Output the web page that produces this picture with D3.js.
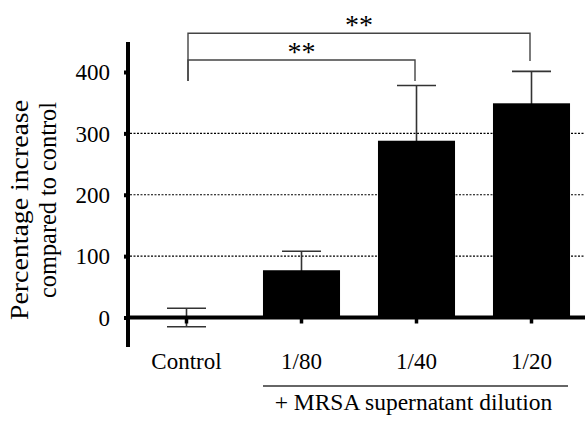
<!DOCTYPE html>
<html>
<head>
<meta charset="utf-8">
<script src="https://cdn.jsdelivr.net/npm/d3@7"></script>
</head>
<body style="margin:0; background:#fff">
<div id="chart"></div>
<script>
// data
var categories = ["Control", "1/80", "1/40", "1/20"];
var means = [0, 77, 288, 349];
var errors = [15, 31, 90, 52];
var yTicks = [0, 100, 200, 300, 400];
var gridValues = [100, 200, 300];
// significance brackets: from category, to category, label
var sigFrom = ["Control", "Control"];
var sigTo = ["1/20", "1/40"];
var sigLabel = ["**", "**"];

var width = 585, height = 422;
var fontFam = "Liberation Serif, Tinos, Times New Roman, serif";

var svg = d3.select("#chart")
  .append("svg")
    .attr("width", width)
    .attr("height", height)
    .attr("font-family", fontFam);

var x = d3.scaleBand()
  .domain(categories)
  .range([129, 589])
  .paddingInner(0.33)
  .paddingOuter(0.165);

var y = d3.scaleLinear()
  .domain([0, 400])
  .range([317.5, 72]);

// dotted grid lines
svg.append("g")
  .selectAll("line")
  .data(gridValues)
  .enter().append("line")
    .attr("x1", 130)
    .attr("x2", width)
    .attr("y1", function(d) { return y(d); })
    .attr("y2", function(d) { return y(d); })
    .attr("stroke", "#000")
    .attr("stroke-width", 1.2)
    .attr("stroke-dasharray", "2,1.5");

var data = categories.map(function(c, i) { return { cat: c, mean: means[i], err: errors[i] }; });

// error bars (drawn first, bars hide the lower half)
var eb = svg.append("g")
  .attr("stroke", "#333")
  .attr("stroke-width", 1.6);
var capHalf = 19.5;
data.forEach(function(d) {
  var cx = x(d.cat) + x.bandwidth() / 2;
  eb.append("line")
    .attr("x1", cx).attr("x2", cx)
    .attr("y1", y(d.mean - d.err)).attr("y2", y(d.mean + d.err));
  eb.append("line")
    .attr("x1", cx - capHalf).attr("x2", cx + capHalf)
    .attr("y1", y(d.mean + d.err)).attr("y2", y(d.mean + d.err));
  eb.append("line")
    .attr("x1", cx - capHalf).attr("x2", cx + capHalf)
    .attr("y1", y(d.mean - d.err)).attr("y2", y(d.mean - d.err));
});

// bars
svg.append("g")
  .selectAll("rect")
  .data(data)
  .enter().append("rect")
    .attr("x", function(d) { return x(d.cat); })
    .attr("width", x.bandwidth())
    .attr("y", function(d) { return y(Math.max(d.mean, 0)); })
    .attr("height", function(d) { return Math.abs(y(d.mean) - y(0)); })
    .attr("fill", "#000");

// y axis
var yAxis = svg.append("g")
  .attr("transform", "translate(128,0)")
  .call(d3.axisLeft(y).tickValues(yTicks).tickSize(4).tickPadding(14))
  .attr("font-family", fontFam)
  .attr("font-size", 23);
yAxis.select(".domain").remove();
yAxis.selectAll(".tick line").attr("stroke-width", 4);
yAxis.selectAll(".tick text").attr("dy", "0.34em");

svg.append("line")
  .attr("x1", 128).attr("x2", 128)
  .attr("y1", y(-48)).attr("y2", y(449))
  .attr("stroke", "#000")
  .attr("stroke-width", 4);

// x axis
var xAxis = svg.append("g")
  .attr("transform", "translate(0," + y(0) + ")")
  .call(d3.axisBottom(x).tickSize(6).tickPadding(45))
  .attr("font-family", fontFam)
  .attr("font-size", 23);
xAxis.select(".domain").remove();
xAxis.selectAll(".tick line").attr("stroke-width", 3.5);
xAxis.selectAll(".tick text").attr("dy", "0");

svg.append("line")
  .attr("x1", 126).attr("x2", width)
  .attr("y1", y(0)).attr("y2", y(0))
  .attr("stroke", "#000")
  .attr("stroke-width", 4);

// group line and caption under the dilutions
var gx0 = x("1/80"), gx1 = x("1/20") + x.bandwidth() - 2;
svg.append("line")
  .attr("x1", gx0).attr("x2", gx1)
  .attr("y1", 386).attr("y2", 386)
  .attr("stroke", "#333")
  .attr("stroke-width", 1.5);
svg.append("text")
  .attr("x", (gx0 + gx1) / 2 - 2)
  .attr("y", 409.5)
  .attr("text-anchor", "middle")
  .attr("font-size", 23.5)
  .text("+ MRSA supernatant dilution");

// y axis title
svg.append("text")
  .attr("transform", "translate(28,320) rotate(-90)")
  .attr("textLength", 220)
  .attr("lengthAdjust", "spacingAndGlyphs")
  .attr("font-size", 26)
  .text("Percentage increase");
svg.append("text")
  .attr("transform", "translate(56,298) rotate(-90)")
  .attr("textLength", 196)
  .attr("lengthAdjust", "spacingAndGlyphs")
  .attr("font-size", 26)
  .text("compared to control");

// significance brackets
var legLeftEnd = 81;
var levels = [33.3, 60];
var rightEnds = [61, 81];
var sg = svg.append("g");
sigFrom.forEach(function(f, i) {
  var xa = x(f) + x.bandwidth() / 2 + 1.5;
  var xb = x(sigTo[i]) + x.bandwidth() / 2 - 1.5;
  sg.append("path")
    .attr("d", "M" + xa + "," + legLeftEnd + "V" + levels[i] + "H" + xb + "V" + rightEnds[i])
    .attr("fill", "none")
    .attr("stroke", "#444")
    .attr("stroke-width", 1.4);
  sg.append("text")
    .attr("x", (xa + xb) / 2)
    .attr("y", levels[i] + 0.5)
    .attr("text-anchor", "middle")
    .attr("font-size", 28)
    .text(sigLabel[i]);
});
</script>
</body>
</html>
